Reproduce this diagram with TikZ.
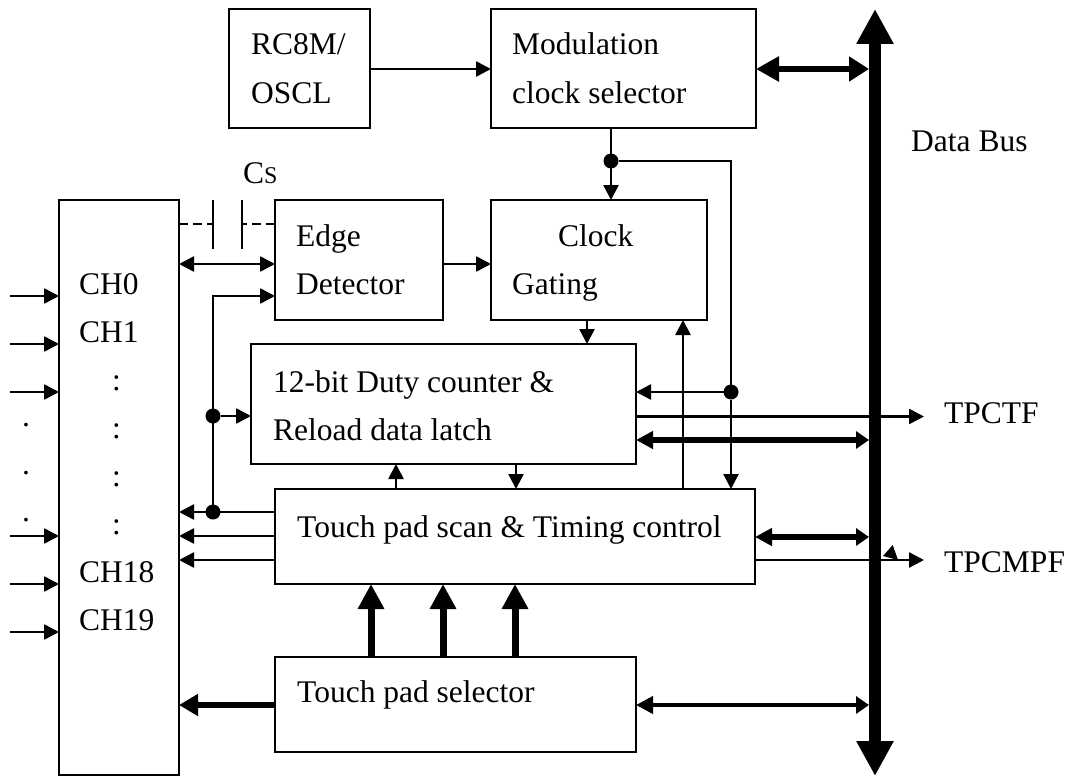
\documentclass[tikz,border=0pt]{standalone}
\usepackage{fontspec}
\setmainfont{Liberation Serif}
\usetikzlibrary{arrows.meta,calc}
\tikzset{
 box/.style={draw,line width=2pt,inner sep=0pt,outer sep=0pt},
 lbl/.style={anchor=base west,inner sep=0pt,font=\fontsize{31.5}{31.5}\selectfont},
 wire/.style={line width=2.6pt},
 sarrow/.style={wire,-{Triangle[length=15pt,width=15pt]}},
 darrow/.style={wire,{Triangle[length=15pt,width=15pt]}-{Triangle[length=15pt,width=15pt]}},
 dot/.style={circle,fill=black,inner sep=0pt,minimum size=15pt,outer sep=0pt},
}
\newcommand{\bx}[5]{\node[box,minimum width=#4pt-#2pt,minimum height=#5pt-#3pt] (#1) at ({(#2+#4)/2},{(#3+#5)/2}) {};}
\begin{document}
\begin{tikzpicture}[x=1pt,y=-1pt]
\useasboundingbox (0,0) rectangle (1070,776);
\bx{ch}{59}{200}{179}{775}
\bx{rc}{229}{9}{370}{128}
\bx{mod}{491}{9}{756}{128}
\bx{edge}{275}{200}{443}{320}
\bx{gate}{491}{200}{707}{320}
\bx{duty}{251}{344}{636}{464}
\bx{scan}{275}{489}{755}{584}
\bx{sel}{275}{657}{636}{752}
% bus
\coordinate (busT) at (875,9);
\coordinate (busB) at (875,776);
\coordinate (busI) at (869,0);
\draw[line width=12pt,{Triangle[length=35pt,width=35pt]}-{Triangle[length=35pt,width=35pt]}] (busT) -- (busB);
% labels
\node[lbl] (t1) at (251,55) {RC8M/};
\node[lbl] (t2) at (251,103) {OSCL};
\node[lbl] (t3) at (512,55) {Modulation};
\node[lbl] (t4) at (512,103) {clock selector};
\node[lbl] (t5) at (911,151) {Data Bus};
\node[lbl] (t6) at (243,183) {C{\fontsize{24}{24}\selectfont S}};
\node[lbl] (t7) at (296,246) {Edge};
\node[lbl] (t8) at (296,294) {Detector};
\node[lbl] (t9) at (558,246) {Clock};
\node[lbl] (t10) at (512,294) {Gating};
\node[lbl] (t11) at (273,392) {12-bit Duty counter \&};
\node[lbl] (t12) at (273,440) {Reload data latch};
\node[lbl] (t13) at (297,537) {Touch pad scan \& Timing control};
\node[lbl] (t14) at (297,702) {Touch pad selector};
\node[lbl] (t15) at (944,423) {TPCTF};
\node[lbl] (t16) at (944,572) {TPCMPF};
\node[lbl] (c0) at (79,294) {CH0};
\node[lbl] (c1) at (79,342) {CH1};
\node[lbl] (c2) at (112,390) {:};
\node[lbl] (c3) at (112,438) {:};
\node[lbl] (c4) at (112,486) {:};
\node[lbl] (c5) at (112,534) {:};
\node[lbl] (c6) at (79,582) {CH18};
\node[lbl] (c7) at (79,630) {CH19};
\node[lbl] (d1) at (22,426) {.};
\node[lbl] (d2) at (22,474) {.};
\node[lbl] (d3) at (22,521) {.};
% inputs
\foreach \yy/\nm in {296/a,344/b,392/c,536/d,584/e,632/f}{
  \coordinate (in\nm) at (10,\yy);
  \draw[sarrow] (in\nm) -- (in\nm -| ch.west);
}
% top
\draw[sarrow] (rc.east |- 0,69) -- (mod.west |- 0,69);
\draw[line width=6.5pt,{Triangle[length=23pt,width=24pt]}-{Triangle[length=20pt,width=24pt]}] (mod.east |- 0,69) -- (busI |- 0,69);
\coordinate (mb) at (611,128);
\node[dot] (j1) at (611,161) {};
\draw[sarrow] (mb) -- (mb |- gate.north);
\coordinate (r1) at (731,161);
\node[dot] (j2) at (731,392) {};
\draw[wire] (j1) -- (r1) -- (j2);
\draw[sarrow] (j2) -- (r1 |- scan.north);
\draw[sarrow] (j2) -- (duty.east |- j2);
% edge, gate
\draw[sarrow] (edge.east |- 0,264) -- (gate.west |- 0,264);
\draw[darrow] (ch.east |- 0,264) -- (edge.west |- 0,264);
\coordinate (c1a) at (213,200);
\coordinate (c1b) at (213,249);
\coordinate (c2a) at (242,200);
\coordinate (c2b) at (242,249);
\draw[wire] (c1a) -- (c1b);
\draw[wire] (c2a) -- (c2b);
\draw[wire,dash pattern=on 9pt off 5pt] (ch.east |- 0,224) -- (c1a |- 0,224);
\draw[wire,dash pattern=on 9pt off 5pt] (edge.west |- 0,224) -- (c2a |- 0,224);
% left vertical
\node[dot] (j3) at (213,416) {};
\node[dot] (j4) at (213,512) {};
\draw[wire,-{Triangle[length=15pt,width=15pt]}] (j4) -- (213,296) -- (edge.west |- 0,296);
\draw[sarrow] (j3) -- (duty.west |- j3);
\draw[sarrow] (scan.west |- j4) -- (ch.east |- j4);
\draw[sarrow] (scan.west |- 0,536) -- (ch.east |- 0,536);
\draw[sarrow] (scan.west |- 0,560) -- (ch.east |- 0,560);
% middle
\draw[sarrow] (gate.south -| 587,0) -- (duty.north -| 587,0);
\draw[sarrow] (scan.north -| 396,0) -- (duty.south -| 396,0);
\draw[sarrow] (duty.south -| 516,0) -- (scan.north -| 516,0);
\draw[sarrow] (scan.north -| 683,0) -- (gate.south -| 683,0);
% right
\coordinate (tf) at (924,416.5);
\draw[sarrow] (duty.east |- tf) -- (tf);
\coordinate (tm) at (924,560);
\draw[sarrow] (scan.east |- tm) -- (tm);
\draw[line width=5.5pt,{Triangle[length=17pt,width=17pt]}-{Triangle[length=13pt,width=17pt]}] (duty.east |- 0,440) -- (busI |- 0,440);
\draw[line width=5.5pt,{Triangle[length=17pt,width=17pt]}-{Triangle[length=13pt,width=17pt]}] (scan.east |- 0,537) -- (busI |- 0,537);
\fill (892.7,545) -- (883,556) -- (898,560) -- cycle;
% thick ups
\foreach \xx in {371,443,515}{
  \draw[line width=7pt,-{Triangle[length=25pt,width=25pt]}] (sel.north -| \xx,0) -- (scan.south -| \xx,0);
}
\draw[line width=6pt,-{Triangle[length=19pt,width=21pt]}] (sel.west |- 0,705) -- (ch.east |- 0,705);
\draw[line width=4pt,{Triangle[length=17pt,width=17pt]}-{Triangle[length=13pt,width=17pt]}] (sel.east |- 0,705) -- (busI |- 0,705);
\end{tikzpicture}
\end{document}
